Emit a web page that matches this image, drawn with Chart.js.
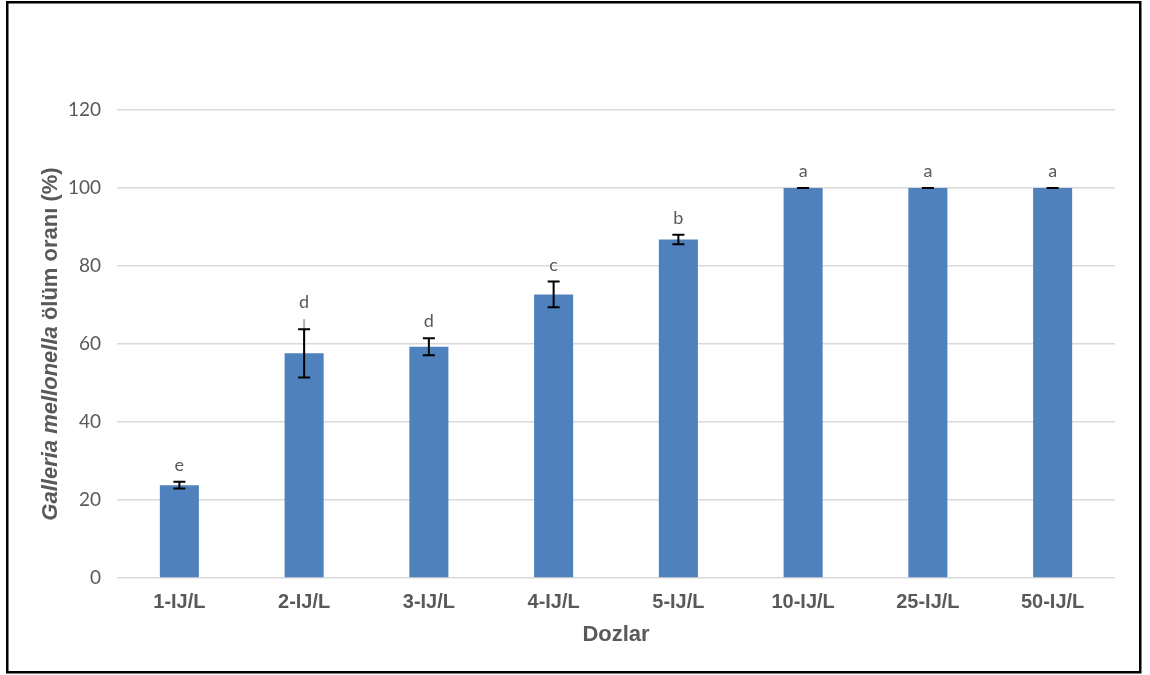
<!DOCTYPE html>
<html>
<head>
<meta charset="utf-8">
<script src="https://cdn.jsdelivr.net/npm/chart.js@4.4.0/dist/chart.umd.min.js"></script>
<style>
  html, body { margin: 0; padding: 0; background: #fff; }
  canvas { display: block; }
</style>
</head>
<body>
<canvas id="chart" width="1150" height="675"></canvas>
<script>
// doses and mean mortality (%) with spread
const doses = ['1-IJ/L', '2-IJ/L', '3-IJ/L', '4-IJ/L', '5-IJ/L', '10-IJ/L', '25-IJ/L', '50-IJ/L']
const mortality = [23.8, 57.6, 59.3, 72.7, 86.8, 100, 100, 100]
const spread = [0.85, 6.2, 2.2, 3.3, 1.2, 0, 0, 0]
// grey whisker left above the 2-IJ/L bar
const greySpread = [0, 8.8, 0, 0, 0, 0, 0, 0]
const groups = ['e', 'd', 'd', 'c', 'b', 'a', 'a', 'a']
const yTicks = [0, 20, 40, 60, 80, 100, 120]

const grey = '#595959'

const extras = {
    id: 'extras',
    afterDatasetsDraw(chart){
        const ctx = chart.ctx
        const meta = chart.getDatasetMeta(0)
        const y = chart.scales.y
        ctx.save()
        meta.data.forEach((bar, i)=>{
            const x = bar.x
            const v = mortality[i]
            const e = spread[i]

            if (greySpread[i] > 0){
                ctx.strokeStyle = '#b0b0b0'
                ctx.lineWidth = 2
                ctx.beginPath()
                ctx.moveTo(x, y.getPixelForValue(v))
                ctx.lineTo(x, y.getPixelForValue(v + greySpread[i]))
                ctx.stroke()
            }

            // error bar
            const top = y.getPixelForValue(v + e)
            const bot = y.getPixelForValue(v - e)
            ctx.strokeStyle = '#000'
            ctx.lineWidth = 2
            ctx.beginPath()
            ctx.moveTo(x, top)
            ctx.lineTo(x, bot)
            ctx.moveTo(x - 6, top)
            ctx.lineTo(x + 6, top)
            ctx.moveTo(x - 6, bot)
            ctx.lineTo(x + 6, bot)
            ctx.stroke()

            // group letter
            const labelTop = y.getPixelForValue(v + Math.max(e, greySpread[i]))
            ctx.fillStyle = grey
            ctx.font = '18px Lato'
            ctx.textAlign = 'center'
            ctx.textBaseline = 'alphabetic'
            ctx.fillText(groups[i], x, labelTop - 11)
        })

        // x axis title
        const area = chart.chartArea
        ctx.font = 'bold 22px "Liberation Sans"'
        ctx.fillStyle = grey
        ctx.textAlign = 'center'
        ctx.fillText('Dozlar', (area.left + area.right) / 2, 641)

        // y axis title, italic species name
        const part1 = 'Galleria mellonella'
        const part2 = ' ölüm oranı (%)'
        ctx.translate(57, (area.top + area.bottom) / 2)
        ctx.rotate(-Math.PI / 2)
        ctx.font = 'italic bold 22px "Liberation Sans"'
        const w1 = ctx.measureText(part1).width
        ctx.font = 'bold 22px "Liberation Sans"'
        const w2 = ctx.measureText(part2).width
        const start = -(w1 + w2) / 2
        ctx.textAlign = 'left'
        ctx.font = 'italic bold 22px "Liberation Sans"'
        ctx.fillText(part1, start, 0)
        ctx.font = 'bold 22px "Liberation Sans"'
        ctx.fillText(part2, start + w1, 0)
        ctx.restore()

        // frame
        ctx.save()
        ctx.strokeStyle = '#000'
        ctx.lineWidth = 2.5
        ctx.strokeRect(7.25, 2.25, 1133, 670)
        ctx.restore()
    }
}

new Chart(document.getElementById('chart'), {
    type: 'bar',
    data: {
        labels: doses,
        datasets: [{
            data: mortality,
            backgroundColor: '#4f81bd',
            categoryPercentage: 1,
            barPercentage: 0.313,
        }]
    },
    options: {
        responsive: false,
        animation: false,
        layout: { padding: { left: 0, top: 110, right: 35, bottom: 0 } },
        plugins: {
            legend: { display: false },
            tooltip: { enabled: false },
        },
        scales: {
            x: {
                grid: { display: false, drawTicks: false },
                border: { display: false },
                ticks: {
                    color: grey,
                    font: { family: 'Liberation Sans', size: 20, weight: 'bold' },
                    padding: 12,
                },
                afterFit: (scale)=>{ scale.height = 97 },
            },
            y: {
                min: 0,
                max: 120,
                afterBuildTicks: (scale)=>{ scale.ticks = yTicks.map(v=>({ value: v })) },
                grid: { color: '#d9d9d9', lineWidth: 1.5, drawTicks: false },
                border: { display: false },
                ticks: {
                    color: grey,
                    font: { family: 'Lato', size: 19 },
                    padding: 16,
                },
                afterFit: (scale)=>{ scale.width = 117 },
            }
        }
    },
    plugins: [extras]
})
</script>
</body>
</html>
